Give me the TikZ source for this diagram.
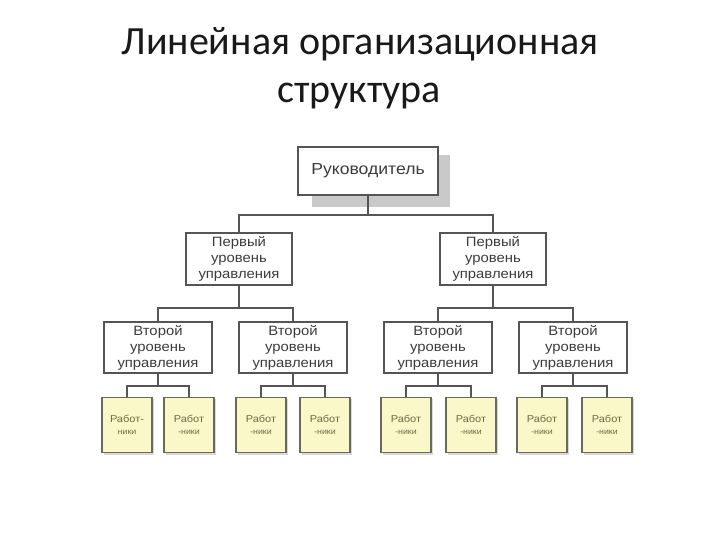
\documentclass[tikz,border=0pt]{standalone}
\usepackage{fontspec}
\setmainfont{Carlito}
\newfontfamily\boxfont[FakeStretch=1.1]{Liberation Sans}
\definecolor{linec}{HTML}{555555}
\definecolor{txtc}{HTML}{3C3C3C}
\definecolor{shadc}{HTML}{C9C9C9}
\definecolor{workfill}{HTML}{FAF7C9}
\definecolor{workline}{HTML}{6A6A5C}
\definecolor{worktxt}{HTML}{6E6B47}
\begin{document}
\begin{tikzpicture}[x=1bp,y=-1bp,
  conn/.style={draw=linec, line width=1.1bp},
  bossbox/.style={draw=linec, line width=1.6bp, fill=white, minimum width=140bp, minimum height=48bp, inner sep=0pt,
     font=\boxfont\fontsize{16bp}{18bp}\selectfont, text=txtc},
  lvlbox/.style={draw=linec, line width=1.1bp, fill=white, inner sep=0pt, align=center, text=txtc,
     font=\boxfont\fontsize{13.5bp}{16bp}\selectfont},
  firstbox/.style={lvlbox, minimum width=106bp, minimum height=52bp},
  secondbox/.style={lvlbox, minimum width=108bp, minimum height=51bp},
  workbox/.style={draw=workline, line width=1.3bp, fill=workfill, minimum width=50bp, minimum height=55bp, inner sep=0pt,
     align=center, text=worktxt, font=\boxfont\fontsize{10bp}{13bp}\selectfont},
  titletext/.style={font=\fontsize{40bp}{48bp}\selectfont, align=center, text=black!90}
]
\useasboundingbox (0,0) rectangle (720,540);
\fill[white] (0,0) rectangle (720,540);

% title
\node[titletext, anchor=base] (title) at (360,55) {Линейная организационная};
\node[titletext, anchor=base] (title2) at (359,103) {структура};

% boss with shadow
\fill[shadc] (312,155) rectangle (450,207);
\node[bossbox] (boss) at (368,171) {Руководитель};

% first level
\node[firstbox] (f1) at (239,259) {Первый\\уровень\\управления};
\node[firstbox] (f2) at (493,259) {Первый\\уровень\\управления};

% second level
\node[secondbox] (s1) at (158,347.5) {Второй\\уровень\\управления};
\node[secondbox] (s2) at (293,347.5) {Второй\\уровень\\управления};
\node[secondbox] (s3) at (438,347.5) {Второй\\уровень\\управления};
\node[secondbox] (s4) at (573,347.5) {Второй\\уровень\\управления};

% workers
\newcommand{\wtxt}[2]{#1\\[-1bp]{\fontsize{8bp}{9bp}\selectfont #2}}
\foreach \n/\x/\a/\b in {w1/127/Работ-/ники, w2/189/Работ/-ники, w3/261/Работ/-ники, w4/325/Работ/-ники,
                         w5/406/Работ/-ники, w6/471/Работ/-ники, w7/542/Работ/-ники, w8/607/Работ/-ники}{
  \fill[shadc!70] (\x-23,399) rectangle (\x+27,455);
  \node[workbox] (\n) at (\x,425) {\wtxt{\a}{\b}};
}

% bus levels
\coordinate (b1) at (0,215);
\coordinate (b2) at (0,308);
\coordinate (b3) at (0,386);

% connectors
\draw[conn] (boss.south) -- (boss.south |- b1);
\draw[conn] (f1.north) |- (boss.south |- b1) -| (f2.north);

\draw[conn] (f1.south) -- (f1.south |- b2);
\draw[conn] (s1.north) |- (f1.south |- b2) -| (s2.north);
\draw[conn] (f2.south) -- (f2.south |- b2);
\draw[conn] (s3.north) |- (f2.south |- b2) -| (s4.north);

\foreach \p/\l/\r in {s1/w1/w2, s2/w3/w4, s3/w5/w6, s4/w7/w8}{
  \draw[conn] (\p.south) -- (\p.south |- b3);
  \draw[conn] (\l.north) |- (\p.south |- b3) -| (\r.north);
}
\end{tikzpicture}
\end{document}
